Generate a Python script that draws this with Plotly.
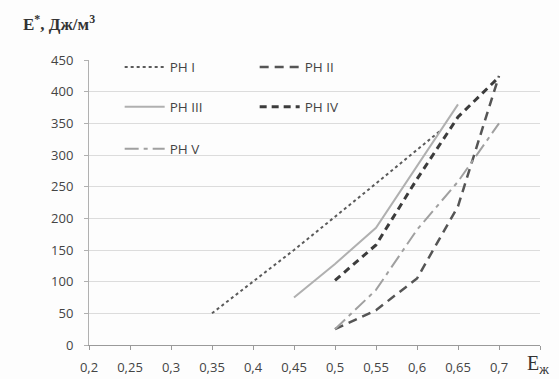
import plotly.graph_objects as go

# Data
x_ph1 = [0.35, 0.45, 0.55, 0.63]
y_ph1 = [50, 150, 255, 340]

x_ph2 = [0.5, 0.55, 0.6, 0.65, 0.7]
y_ph2 = [25, 55, 105, 219, 425]

x_ph3 = [0.45, 0.5, 0.55, 0.6, 0.65]
y_ph3 = [75, 128, 185, 282, 380]

x_ph4 = [0.5, 0.55, 0.6, 0.65, 0.7]
y_ph4 = [102, 158, 262, 360, 423]

x_ph5 = [0.5, 0.55, 0.6, 0.65, 0.7]
y_ph5 = [25, 87, 182, 258, 350]

x_tickvals = [0.2, 0.25, 0.3, 0.35, 0.4, 0.45, 0.5, 0.55, 0.6, 0.65, 0.7, 0.75]
x_ticktext = ["0,2", "0,25", "0,3", "0,35", "0,4", "0,45", "0,5", "0,55", "0,6", "0,65", "0,7", ""]
y_tickvals = [0, 50, 100, 150, 200, 250, 300, 350, 400, 450]

fig = go.Figure()

fig.add_trace(go.Scatter(x=x_ph1, y=y_ph1, mode="lines", name="PH I",
                         line=dict(color="#5a5a5a", width=2, dash="dot"), legend="legend"))
fig.add_trace(go.Scatter(x=x_ph2, y=y_ph2, mode="lines", name="PH II",
                         line=dict(color="#555555", width=2.5, dash="9px,6px"), legend="legend"))
fig.add_trace(go.Scatter(x=x_ph3, y=y_ph3, mode="lines", name="PH III",
                         line=dict(color="#b0b0b0", width=2), legend="legend2"))
fig.add_trace(go.Scatter(x=x_ph4, y=y_ph4, mode="lines", name="PH IV",
                         line=dict(color="#3c3c3c", width=3, dash="7px,5px"), legend="legend2"))
fig.add_trace(go.Scatter(x=x_ph5, y=y_ph5, mode="lines", name="PH V",
                         line=dict(color="#a0a0a0", width=2, dash="14px,5px,4px,5px"), legend="legend3"))

tick_font = dict(family="Open Sans, Liberation Sans, sans-serif", size=13, color="#444444")
leg_common = dict(orientation="h", xanchor="left", yanchor="middle",
                  bgcolor="rgba(0,0,0,0)", entrywidth=80, entrywidthmode="pixels",
                  font=dict(family="Open Sans, Liberation Sans, sans-serif", size=13.5, color="#444444"),
                  itemwidth=40, tracegroupgap=0)

fig.update_layout(
    width=559, height=379,
    margin=dict(l=89, r=19, t=60, b=34),
    paper_bgcolor="#fdfdfd", plot_bgcolor="#fdfdfd",
    showlegend=True,
    legend=dict(x=0.068, y=0.975, **leg_common),
    legend2=dict(x=0.068, y=0.835, **leg_common),
    legend3=dict(x=0.068, y=0.688, **leg_common),
    xaxis=dict(range=[0.2, 0.75], tickvals=x_tickvals, ticktext=x_ticktext, automargin=False,
               showgrid=False, zeroline=False, showline=True, linecolor="#9a9a9a", linewidth=1,
               ticks="outside", ticklen=4, tickcolor="#9a9a9a", ticklabelstandoff=6,
               tickfont=tick_font),
    yaxis=dict(range=[0, 450], tickvals=y_tickvals, automargin=False,
               showgrid=True, gridcolor="#dcdcdc", gridwidth=1, zeroline=False,
               showline=True, linecolor="#b0b0b0", linewidth=1,
               ticks="outside", ticklen=4, tickcolor="#b0b0b0", ticklabelstandoff=8,
               tickfont=tick_font),
    annotations=[
        dict(text="<b>E<sup>*</sup>, Дж/м<sup>3</sup></b>", xref="paper", yref="paper",
             x=-0.15, y=1.085, xanchor="left", yanchor="bottom", showarrow=False,
             font=dict(family="Liberation Serif, serif", size=17, color="#333333")),
        dict(text="E<sub>ж</sub>", xref="paper", yref="paper",
             x=0.966, y=-0.018, xanchor="left", yanchor="top", showarrow=False,
             font=dict(family="Liberation Serif, serif", size=20, color="#333333")),
    ],
)

fig.write_html("out.html")
